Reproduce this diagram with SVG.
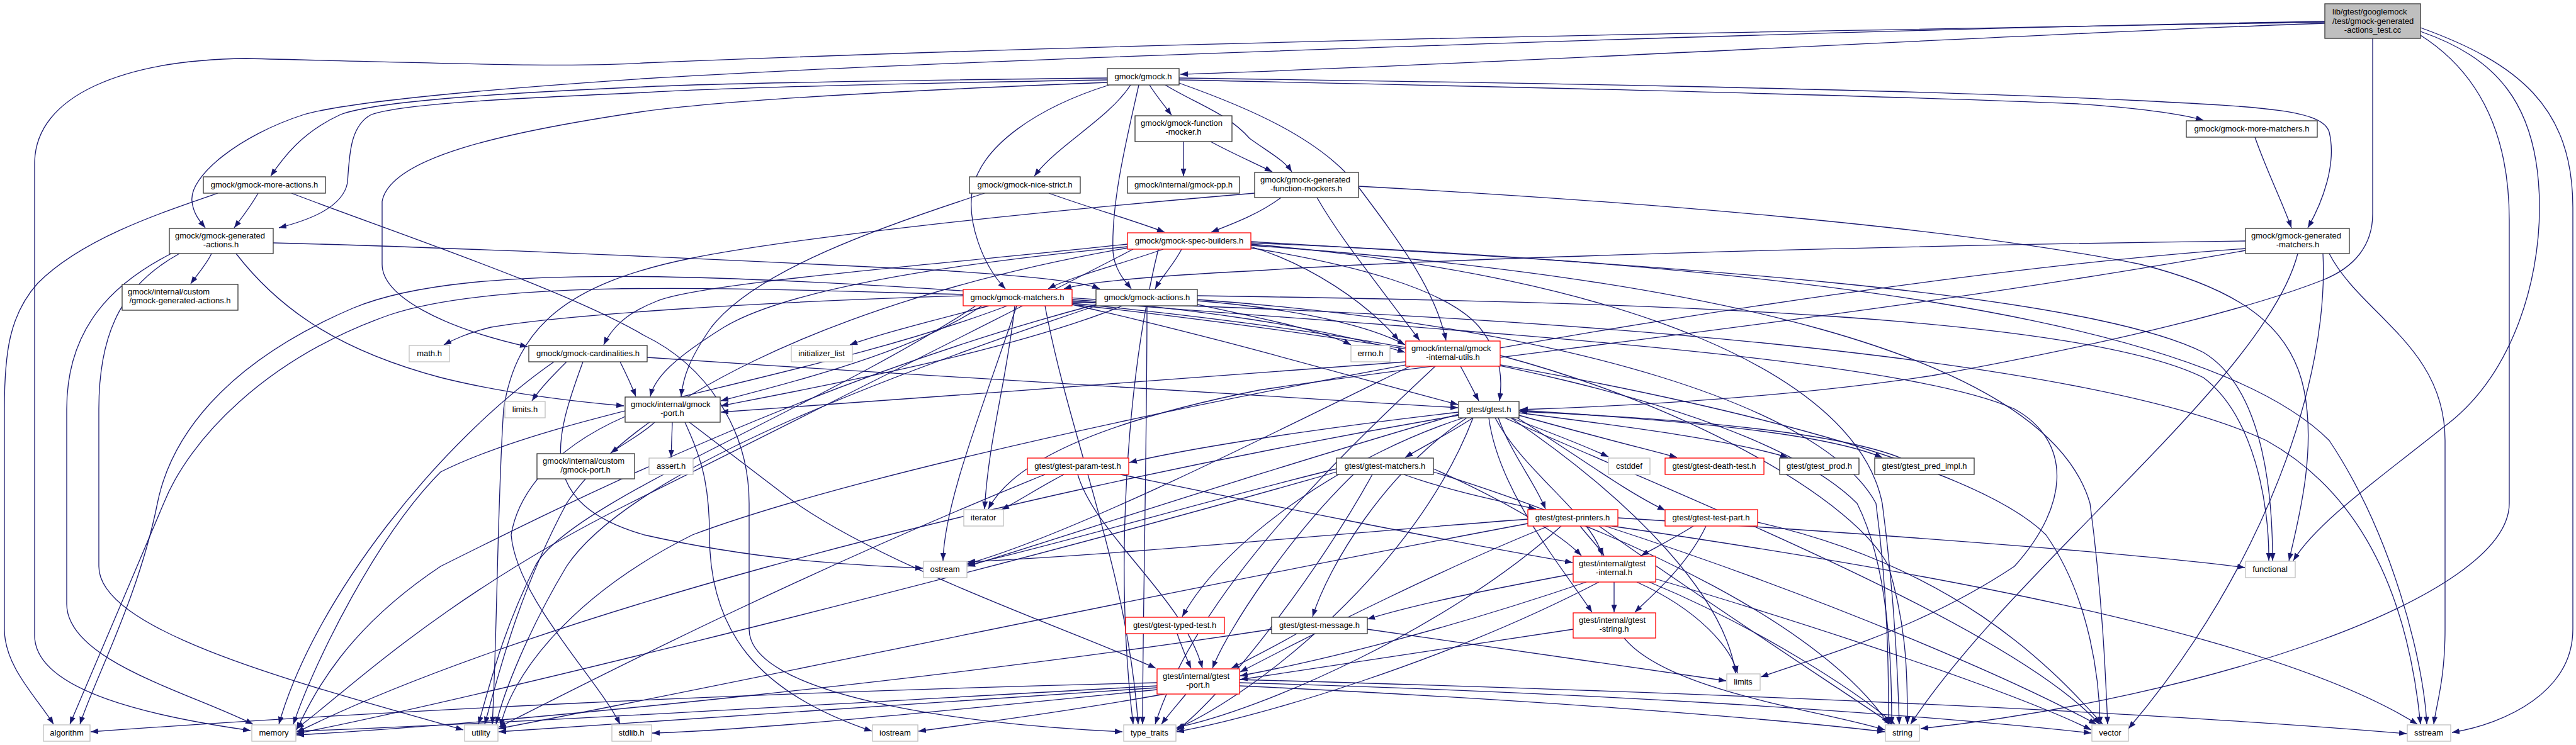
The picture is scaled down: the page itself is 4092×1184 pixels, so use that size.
<svg xmlns="http://www.w3.org/2000/svg" width="4092" height="1184" viewBox="0 0 4092 1184">
<style>
.n rect{fill:#fff;stroke:#333;stroke-width:1.3}
.s rect{stroke:#bfbfbf}
.r rect{stroke:#ff0000}
.g rect{fill:#bfbfbf}
text{font-family:"Liberation Sans",Arial,sans-serif;font-size:13px;fill:#000;text-anchor:middle}
text.l{text-anchor:start}
#edges path{fill:none;stroke:#191970;stroke-width:1.3;marker-end:url(#a)}
</style>
<defs>
<marker id="a" markerWidth="12" markerHeight="9" refX="12" refY="4.5" orient="auto" markerUnits="userSpaceOnUse"><path d="M0,0 L12,4.5 L0,9 z" fill="#191970"/></marker>
</defs>
<rect width="4092" height="1184" fill="#fff"/>
<g id="edges">
<path d="M3693,37 C3300,50 2300,105 1875,118"/>
<path d="M3693,34 C3000,45 1500,95 1023,125 C800,140 560,160 483,182 C380,215 300,280 305,320 C307,340 318,352 326,362"/>
<path d="M3693,35 C3000,48 2000,60 1023,100 C900,108 700,100 391,93 C200,95 55,150 55,260 L55,1010 C55,1100 250,1140 398,1161"/>
<path d="M3769,61 L3769,340 C3769,390 3740,425 3690,445 C3550,500 3300,555 3069,597 C2850,630 2600,645 2415,651"/>
<path d="M3845,50 C3960,90 4034,160 4034,330 C4034,450 3990,600 3880,680 C3780,760 3680,830 3643,891"/>
<path d="M3845,56 C3930,110 3986,200 3986,350 L3986,800 C3986,950 3500,1110 3051,1158"/>
<path d="M3845,44 C4000,100 4087,170 4087,330 L4087,1000 C4087,1100 3980,1150 3895,1164"/>
<path d="M1759,124 C1400,128 1150,132 1023,138 C800,148 600,160 541,182 C480,210 450,250 430,280"/>
<path d="M1759,127 C1400,133 1150,140 1023,147 C800,157 640,165 590,182 C555,200 555,250 552,290 C545,330 490,350 443,362"/>
<path d="M1759,131 C1400,145 1150,160 1023,177 C800,210 620,250 607,320 L607,420 C607,470 700,520 838,551"/>
<path d="M1762,135 C1650,170 1560,230 1545,300 C1535,350 1560,420 1597,459"/>
<path d="M1796,135 C1760,190 1680,230 1643,280"/>
<path d="M1809,135 C1790,220 1765,320 1768,400 C1770,430 1790,450 1797,459"/>
<path d="M1826,135 C1835,150 1850,168 1861,183"/>
<path d="M1851,135 C1900,165 1950,180 1985,220 C2020,245 2040,255 2052,273"/>
<path d="M1873,132 C1980,170 2100,220 2160,300 C2220,380 2280,460 2297,541"/>
<path d="M1873,124 C2300,130 3000,140 3400,160 C3600,170 3690,175 3700,210 C3712,260 3690,320 3666,362"/>
<path d="M1873,127 C2400,138 3000,152 3300,165 C3400,172 3460,180 3500,191"/>
<path d="M346,307 C250,340 130,380 60,450 C15,500 7,560 7,650 L7,1000 C7,1060 60,1110 85,1151"/>
<path d="M410,307 C400,325 385,345 372,362"/>
<path d="M463,307 C600,360 900,460 1023,533 C1120,580 1190,680 1190,800 L1190,1000 C1190,1100 1500,1150 1783,1163"/>
<path d="M272,403 C180,450 106,520 106,650 L106,960 C106,1050 300,1100 402,1151"/>
<path d="M285,403 C200,450 157,520 157,650 L157,900 C157,1000 450,1080 736,1160"/>
<path d="M336,403 C328,420 312,438 303,451"/>
<path d="M375,403 C450,500 550,560 700,600 C800,625 900,637 991,645"/>
<path d="M434,386 C800,395 1300,420 1500,430 C1650,440 1720,448 1747,459"/>
<path d="M1880,225 L1880,280"/>
<path d="M1923,225 C1960,245 1995,260 2021,273"/>
<path d="M2035,314 C2000,340 1960,355 1924,369"/>
<path d="M2158,296 C2600,320 3100,360 3400,420 C3560,460 3640,520 3660,620 C3680,720 3650,830 3636,891"/>
<path d="M1993,307 C1600,340 1250,380 1100,410 C900,450 820,520 800,650 C790,800 790,1000 782,1151"/>
<path d="M2092,314 C2130,380 2180,440 2255,541"/>
<path d="M1848,396 C1780,420 1700,440 1665,459"/>
<path d="M1877,396 C1865,420 1845,440 1835,459"/>
<path d="M1791,388 C1500,420 1100,450 1040,480 C990,500 970,525 959,548"/>
<path d="M1987,392 C2080,420 2170,480 2222,541"/>
<path d="M1791,392 C1500,420 1250,460 1150,520 C1070,570 1040,600 1033,630"/>
<path d="M1987,394 C2150,420 2300,460 2350,520 C2390,570 2385,610 2382,637"/>
<path d="M1800,396 C1600,500 1300,650 1000,800 C700,950 550,1100 471,1158"/>
<path d="M1987,384 C2600,420 3300,460 3500,560 C3600,620 3610,800 3610,891"/>
<path d="M1987,386 C2800,420 3500,500 3700,700 C3800,850 3850,1050 3855,1151"/>
<path d="M1987,388 C2600,440 2950,600 2990,800 C3010,950 3015,1080 3017,1151"/>
<path d="M1840,396 C1790,600 1770,900 1800,1151"/>
<path d="M1791,394 C1300,480 1000,650 900,800 C820,950 790,1080 770,1151"/>
<path d="M1987,390 C2700,440 3250,560 3320,800 C3340,950 3345,1080 3348,1151"/>
<path d="M3582,218 C3600,270 3625,320 3640,362"/>
<path d="M3567,383 C3000,390 2300,410 2000,430 C1800,440 1720,450 1690,459"/>
<path d="M3567,398 C3000,500 2400,560 2000,620 C1700,680 1600,750 1570,809"/>
<path d="M3700,403 C3750,500 3884,550 3884,700 L3884,1000 C3884,1080 3870,1120 3866,1151"/>
<path d="M3650,403 C3600,600 3200,900 3035,1151"/>
<path d="M3567,395 C2800,450 1500,700 1100,850 C900,950 810,1080 795,1155"/>
<path d="M3690,403 C3700,600 3600,900 3381,1158"/>
<path d="M1666,307 C1730,330 1800,350 1850,369"/>
<path d="M1564,307 C1400,360 1200,430 1130,520 C1095,570 1085,600 1082,630"/>
<path d="M1530,470 C1200,480 900,500 780,520 C740,530 720,540 705,548"/>
<path d="M1571,486 C1480,510 1400,530 1350,548"/>
<path d="M1530,468 C1200,460 800,440 620,500 C420,570 300,700 260,800 C210,920 140,1080 111,1151"/>
<path d="M1612,486 C1600,600 1570,700 1564,809"/>
<path d="M1703,478 C2200,520 3000,560 3200,650 C3290,700 3290,800 3200,900 C3050,1000 2900,1040 2797,1076"/>
<path d="M1600,486 C1300,600 900,650 700,750 C600,850 500,1050 466,1151"/>
<path d="M1615,486 C1560,650 1500,800 1498,891"/>
<path d="M1703,480 C2400,500 3300,560 3600,700 C3780,800 3830,1000 3845,1151"/>
<path d="M1703,482 C2300,540 2800,650 2950,800 C3000,900 3005,1050 3005,1151"/>
<path d="M1660,486 C1700,700 1790,900 1808,1151"/>
<path d="M1550,486 C1300,650 900,800 850,900 C800,1000 780,1080 760,1151"/>
<path d="M1703,484 C2400,560 3100,700 3250,850 C3320,950 3335,1080 3336,1151"/>
<path d="M1703,476 C1900,490 2100,520 2232,560"/>
<path d="M1560,486 C1450,560 1250,610 1145,637"/>
<path d="M1703,484 C1950,540 2150,600 2316,643"/>
<path d="M1902,484 C2000,505 2100,525 2146,548"/>
<path d="M1902,478 C2050,490 2170,515 2232,548"/>
<path d="M1783,486 C1600,560 1300,615 1145,645"/>
<path d="M1741,476 C1200,440 750,410 560,490 C350,580 270,700 250,800 C220,950 150,1080 127,1151"/>
<path d="M1902,470 C2600,480 3300,500 3500,600 C3580,660 3605,800 3604,891"/>
<path d="M1741,484 C1300,600 900,800 700,900 C550,1000 500,1100 471,1160"/>
<path d="M1902,476 C2500,520 2900,650 2980,800 C3000,950 3000,1080 3000,1151"/>
<path d="M1822,486 C1822,700 1815,1000 1815,1151"/>
<path d="M1741,486 C1400,600 1000,750 900,900 C840,1000 800,1100 788,1151"/>
<path d="M900,575 C880,595 860,615 845,637"/>
<path d="M880,575 C700,700 500,950 443,1151"/>
<path d="M926,575 C880,700 850,800 1023,850 C1200,890 1350,898 1466,903"/>
<path d="M985,575 C995,595 1003,612 1010,630"/>
<path d="M1028,568 C1500,600 2000,630 2316,648"/>
<path d="M2233,575 C1900,600 1500,630 1145,655"/>
<path d="M2320,582 C2330,600 2340,620 2349,637"/>
<path d="M2240,582 C2000,700 1700,850 1537,896"/>
<path d="M2280,582 C2100,750 1900,950 1835,1151"/>
<path d="M2383,565 C2700,650 2950,800 3000,900 C3030,1000 3030,1080 3030,1151"/>
<path d="M1040,671 C1020,690 990,705 970,720"/>
<path d="M1068,671 L1066,727"/>
<path d="M993,662 C860,720 820,800 812,850 C820,950 950,1080 985,1151"/>
<path d="M1088,671 C1110,720 1127,760 1127,850 C1127,1000 1200,1100 1385,1162"/>
<path d="M1095,671 L1251,790 C1400,900 1700,1000 1836,1062"/>
<path d="M2340,664 C2300,690 2260,710 2232,727"/>
<path d="M2400,664 C2470,690 2520,710 2555,726"/>
<path d="M2413,660 C2520,690 2600,710 2664,727"/>
<path d="M2413,656 C2600,680 2750,700 2840,727"/>
<path d="M2413,652 C2700,670 2900,690 2990,727"/>
<path d="M3020,728 C2900,680 2600,662 2414,654"/>
<path d="M2317,655 C2100,680 1900,710 1794,735"/>
<path d="M2380,664 C2400,720 2440,770 2455,809"/>
<path d="M2410,664 C2500,720 2580,780 2645,811"/>
<path d="M2375,664 C2420,750 2530,820 2545,883"/>
<path d="M2365,664 C2380,780 2480,900 2529,973"/>
<path d="M2330,664 C2200,750 2110,900 2085,980"/>
<path d="M2325,664 C2150,720 1950,850 1878,980"/>
<path d="M2400,664 C2600,800 2740,950 2757,1070"/>
<path d="M2317,660 C1500,800 800,1000 471,1164"/>
<path d="M2317,658 C2000,750 1700,850 1537,900"/>
<path d="M2340,664 C2250,900 2000,1100 1869,1158"/>
<path d="M2390,664 C2700,800 3200,1000 3335,1151"/>
<path d="M2230,754 C2300,780 2400,800 2440,809"/>
<path d="M2277,745 C2400,800 2480,850 2512,883"/>
<path d="M2150,754 C2050,850 1950,1000 1926,1062"/>
<path d="M2123,750 C1600,900 800,1100 471,1166"/>
<path d="M2123,745 C1900,800 1700,860 1537,898"/>
<path d="M2277,750 C2600,850 2900,1000 3000,1151"/>
<path d="M2180,754 C2100,900 1950,1100 1869,1161"/>
<path d="M1690,754 C1650,775 1620,795 1591,810"/>
<path d="M1660,754 C1300,900 1000,1050 792,1156"/>
<path d="M1780,754 C2000,800 2300,860 2498,894"/>
<path d="M1712,754 C1740,850 1880,950 1910,1062"/>
<path d="M2510,836 C2525,855 2540,870 2548,883"/>
<path d="M2460,836 C2300,900 2100,1000 1970,1068"/>
<path d="M2570,823 C3000,850 3400,880 3566,902"/>
<path d="M2427,825 C2100,850 1800,880 1537,893"/>
<path d="M2560,836 C3000,900 3600,1000 3840,1151"/>
<path d="M2540,836 C2700,950 2900,1080 3005,1151"/>
<path d="M2480,836 C2300,1000 2000,1130 1869,1156"/>
<path d="M2427,832 C1800,950 1200,1080 792,1158"/>
<path d="M2550,836 C2900,950 3200,1080 3330,1151"/>
<path d="M2690,836 C2660,855 2630,870 2607,883"/>
<path d="M2710,836 C2680,900 2620,950 2597,973"/>
<path d="M2792,830 C3100,900 3250,1050 3340,1151"/>
<path d="M2499,912 C2350,940 2250,960 2172,984"/>
<path d="M2520,925 C2300,1000 2100,1050 1970,1074"/>
<path d="M2564,925 L2564,973"/>
<path d="M2600,925 C2700,970 2750,1030 2760,1070"/>
<path d="M2620,925 C2800,1000 2950,1100 3010,1151"/>
<path d="M2540,925 C2300,1050 2000,1140 1869,1163"/>
<path d="M2630,920 C2900,1000 3200,1100 3322,1160"/>
<path d="M1870,1007 C1876,1025 1884,1045 1892,1062"/>
<path d="M2172,1000 C2450,1040 2650,1070 2742,1082"/>
<path d="M2020,1000 C1500,1080 800,1150 471,1168"/>
<path d="M2060,1007 C2020,1030 1980,1050 1956,1062"/>
<path d="M2499,1000 C2300,1030 2100,1060 1970,1080"/>
<path d="M2580,1014 C2650,1100 2900,1130 2994,1160"/>
<path d="M1838,1085 C1200,1100 600,1130 144,1163"/>
<path d="M1838,1090 C1300,1120 800,1150 471,1162"/>
<path d="M1838,1093 C1400,1120 1000,1150 792,1163"/>
<path d="M1838,1096 C1500,1130 1200,1160 1036,1165"/>
<path d="M1850,1103 C1700,1130 1550,1150 1459,1162"/>
<path d="M1884,1103 C1870,1120 1855,1137 1845,1151"/>
<path d="M1969,1090 C2400,1110 2800,1140 2994,1163"/>
<path d="M1969,1085 C2500,1100 3000,1130 3322,1165"/>
<path d="M1969,1080 C2700,1100 3400,1130 3823,1166"/>
</g>
<g id="n-root" class="n g"><rect x="3693" y="6" width="152" height="55"/><text class="l" x="3705" y="23">lib/gtest/googlemock</text><text class="l" x="3705" y="38">/test/gmock-generated</text><text x="3769" y="52">-actions_test.cc</text></g>
<g id="n-gmock" class="n"><rect x="1759" y="109" width="114" height="26"/><text x="1816" y="126">gmock/gmock.h</text></g>
<g id="n-more-actions" class="n"><rect x="323" y="281" width="194" height="26"/><text x="420" y="298">gmock/gmock-more-actions.h</text></g>
<g id="n-gen-actions" class="n"><rect x="269" y="363" width="165" height="40"/><text class="l" x="278" y="379">gmock/gmock-generated</text><text x="351" y="393">-actions.h</text></g>
<g id="n-custom-gen-actions" class="n"><rect x="194" y="452" width="184" height="41"/><text class="l" x="203" y="468">gmock/internal/custom</text><text x="286" y="482">/gmock-generated-actions.h</text></g>
<g id="n-function-mocker" class="n"><rect x="1803" y="184" width="154" height="41"/><text class="l" x="1812" y="200">gmock/gmock-function</text><text x="1880" y="214">-mocker.h</text></g>
<g id="n-gmock-pp" class="n"><rect x="1791" y="281" width="178" height="26"/><text x="1880" y="298">gmock/internal/gmock-pp.h</text></g>
<g id="n-nice-strict" class="n"><rect x="1540" y="281" width="176" height="26"/><text x="1628" y="298">gmock/gmock-nice-strict.h</text></g>
<g id="n-gen-func-mockers" class="n"><rect x="1993" y="274" width="165" height="40"/><text class="l" x="2002" y="290">gmock/gmock-generated</text><text x="2075" y="304">-function-mockers.h</text></g>
<g id="n-spec-builders" class="n r"><rect x="1791" y="370" width="196" height="26"/><text x="1889" y="387">gmock/gmock-spec-builders.h</text></g>
<g id="n-more-matchers" class="n"><rect x="3473" y="192" width="208" height="26"/><text x="3577" y="209">gmock/gmock-more-matchers.h</text></g>
<g id="n-gen-matchers" class="n"><rect x="3567" y="363" width="165" height="40"/><text class="l" x="3576" y="379">gmock/gmock-generated</text><text x="3650" y="393">-matchers.h</text></g>
<g id="n-matchers" class="n r"><rect x="1530" y="460" width="173" height="26"/><text x="1616" y="477">gmock/gmock-matchers.h</text></g>
<g id="n-actions" class="n"><rect x="1741" y="460" width="161" height="26"/><text x="1822" y="477">gmock/gmock-actions.h</text></g>
<g id="n-math" class="n s"><rect x="650" y="549" width="64" height="26"/><text x="682" y="566">math.h</text></g>
<g id="n-cardinalities" class="n"><rect x="840" y="549" width="188" height="26"/><text x="934" y="566">gmock/gmock-cardinalities.h</text></g>
<g id="n-initializer-list" class="n s"><rect x="1257" y="549" width="97" height="26"/><text x="1305" y="566">initializer_list</text></g>
<g id="n-errno" class="n s"><rect x="2146" y="549" width="62" height="26"/><text x="2177" y="566">errno.h</text></g>
<g id="n-internal-utils" class="n r"><rect x="2233" y="542" width="150" height="40"/><text class="l" x="2242" y="558">gmock/internal/gmock</text><text x="2308" y="572">-internal-utils.h</text></g>
<g id="n-limits-h" class="n s"><rect x="802" y="638" width="64" height="26"/><text x="834" y="655">limits.h</text></g>
<g id="n-gmock-port" class="n"><rect x="993" y="631" width="151" height="40"/><text class="l" x="1002" y="647">gmock/internal/gmock</text><text x="1068" y="661">-port.h</text></g>
<g id="n-gtest" class="n"><rect x="2317" y="638" width="96" height="26"/><text x="2365" y="655">gtest/gtest.h</text></g>
<g id="n-custom-gmock-port" class="n"><rect x="853" y="721" width="155" height="40"/><text class="l" x="862" y="737">gmock/internal/custom</text><text x="930" y="751">/gmock-port.h</text></g>
<g id="n-assert" class="n s"><rect x="1031" y="728" width="70" height="26"/><text x="1066" y="745">assert.h</text></g>
<g id="n-param-test" class="n r"><rect x="1632" y="728" width="161" height="26"/><text x="1712" y="745">gtest/gtest-param-test.h</text></g>
<g id="n-gtest-matchers" class="n"><rect x="2123" y="728" width="154" height="26"/><text x="2200" y="745">gtest/gtest-matchers.h</text></g>
<g id="n-cstddef" class="n s"><rect x="2555" y="728" width="66" height="26"/><text x="2588" y="745">cstddef</text></g>
<g id="n-death-test" class="n r"><rect x="2645" y="728" width="157" height="26"/><text x="2723" y="745">gtest/gtest-death-test.h</text></g>
<g id="n-gtest-prod" class="n"><rect x="2827" y="728" width="126" height="26"/><text x="2890" y="745">gtest/gtest_prod.h</text></g>
<g id="n-pred-impl" class="n"><rect x="2978" y="728" width="158" height="26"/><text x="3057" y="745">gtest/gtest_pred_impl.h</text></g>
<g id="n-iterator" class="n s"><rect x="1531" y="810" width="63" height="26"/><text x="1562" y="827">iterator</text></g>
<g id="n-printers" class="n r"><rect x="2427" y="810" width="143" height="26"/><text x="2498" y="827">gtest/gtest-printers.h</text></g>
<g id="n-test-part" class="n r"><rect x="2645" y="810" width="147" height="26"/><text x="2718" y="827">gtest/gtest-test-part.h</text></g>
<g id="n-ostream" class="n s"><rect x="1467" y="892" width="69" height="26"/><text x="1501" y="909">ostream</text></g>
<g id="n-functional" class="n s"><rect x="3567" y="892" width="79" height="26"/><text x="3606" y="909">functional</text></g>
<g id="n-gtest-internal" class="n r"><rect x="2499" y="884" width="131" height="41"/><text class="l" x="2508" y="900">gtest/internal/gtest</text><text x="2564" y="914">-internal.h</text></g>
<g id="n-typed-test" class="n r"><rect x="1788" y="981" width="157" height="26"/><text x="1866" y="998">gtest/gtest-typed-test.h</text></g>
<g id="n-message" class="n"><rect x="2020" y="981" width="152" height="26"/><text x="2096" y="998">gtest/gtest-message.h</text></g>
<g id="n-gtest-string" class="n r"><rect x="2499" y="974" width="131" height="40"/><text class="l" x="2508" y="990">gtest/internal/gtest</text><text x="2564" y="1004">-string.h</text></g>
<g id="n-gtest-port" class="n r"><rect x="1838" y="1063" width="131" height="40"/><text class="l" x="1847" y="1079">gtest/internal/gtest</text><text x="1903" y="1093">-port.h</text></g>
<g id="n-limits" class="n s"><rect x="2743" y="1071" width="53" height="26"/><text x="2769" y="1088">limits</text></g>
<g id="n-algorithm" class="n s"><rect x="69" y="1152" width="74" height="26"/><text x="106" y="1169">algorithm</text></g>
<g id="n-memory" class="n s"><rect x="400" y="1152" width="70" height="26"/><text x="435" y="1169">memory</text></g>
<g id="n-utility" class="n s"><rect x="738" y="1152" width="53" height="26"/><text x="764" y="1169">utility</text></g>
<g id="n-stdlib" class="n s"><rect x="972" y="1152" width="63" height="26"/><text x="1003" y="1169">stdlib.h</text></g>
<g id="n-iostream" class="n s"><rect x="1386" y="1152" width="72" height="26"/><text x="1422" y="1169">iostream</text></g>
<g id="n-type-traits" class="n s"><rect x="1785" y="1152" width="83" height="26"/><text x="1826" y="1169">type_traits</text></g>
<g id="n-string" class="n s"><rect x="2995" y="1152" width="54" height="26"/><text x="3022" y="1169">string</text></g>
<g id="n-vector" class="n s"><rect x="3323" y="1152" width="58" height="26"/><text x="3352" y="1169">vector</text></g>
<g id="n-sstream" class="n s"><rect x="3824" y="1152" width="69" height="26"/><text x="3858" y="1169">sstream</text></g>
</svg>
